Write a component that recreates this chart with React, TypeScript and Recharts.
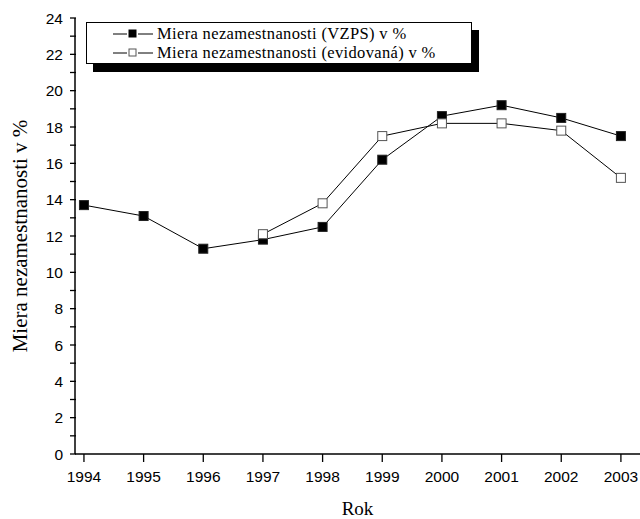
import { LineChart, Line, XAxis, YAxis } from 'recharts'

// Slovak unemployment rate, 1994-2003
const YEARS = [1994, 1995, 1996, 1997, 1998, 1999, 2000, 2001, 2002, 2003]
const VZPS = [13.7, 13.1, 11.3, 11.8, 12.5, 16.2, 18.6, 19.2, 18.5, 17.5]
const EVIDOVANA = [null, null, null, 12.1, 13.8, 17.5, 18.2, 18.2, 17.8, 15.2]

const Y_TICKS = [0, 1, 2, 3, 4, 5, 6, 7, 8, 9, 10, 11, 12, 13, 14, 15, 16, 17, 18, 19, 20, 21, 22, 23, 24]

const SERIES_VZPS = 'Miera nezamestnanosti (VZPS) v %'
const SERIES_EVID = 'Miera nezamestnanosti (evidovaná) v %'

const data = YEARS.map((year, i) => ({ year, vzps: VZPS[i], evid: EVIDOVANA[i] }))

const SERIF = '"Liberation Serif", "DejaVu Serif", serif'
const SANS = '"Liberation Sans", Arial, sans-serif'

function FilledSquare({ cx, cy }: any) {
  if (cx == null || cy == null) return null
  return <rect x={cx - 4.5} y={cy - 4.5} width={9} height={9} fill="#000" stroke="#222" strokeWidth={1} />
}

function OpenSquare({ cx, cy }: any) {
  if (cx == null || cy == null) return null
  return <rect x={cx - 4.5} y={cy - 4.5} width={9} height={9} fill="#fff" stroke="#555" strokeWidth={1} />
}

function YTick({ x, y, payload }: any) {
  const v = payload.value
  return (
    <g>
      <line x1={x + 3} x2={x + 9} y1={y} y2={y} stroke="#000" strokeWidth={1.3} />
      {v % 2 === 0 && (
        <text x={x - 4} y={y} textAnchor="end" dominantBaseline="central" fontFamily={SANS} fontSize={15.5} fill="#000">
          {v}
        </text>
      )}
    </g>
  )
}

// legend drawn as an overlay so it doesn't eat plot space
function LegendBox() {
  const row = (filled: boolean, label: string) => (
    <div style={{ display: 'flex', alignItems: 'center', height: 19 }}>
      <svg width={42} height={12} style={{ marginLeft: 26, flexShrink: 0 }}>
        <line x1={0} x2={14} y1={6} y2={6} stroke="#000" strokeWidth={1} />
        <rect x={16} y={2} width={7} height={7} fill={filled ? '#000' : '#fff'} stroke={filled ? '#000' : '#555'} strokeWidth={1} />
        <line x1={25} x2={40} y1={6} y2={6} stroke="#000" strokeWidth={1} />
      </svg>
      <span
        style={{
          marginLeft: 2,
          fontFamily: SERIF,
          fontSize: 16.5,
          letterSpacing: '0.35px',
          lineHeight: '16px',
          color: '#000',
          whiteSpace: 'nowrap',
        }}
      >
        {label}
      </span>
    </div>
  )
  return (
    <div
      style={{
        position: 'absolute',
        left: 86,
        top: 22,
        width: 386,
        height: 42,
        border: '1px solid #000',
        background: '#fff',
        boxShadow: '7px 8px 0 #000',
        boxSizing: 'border-box',
        paddingTop: 1,
      }}
    >
      {row(true, SERIES_VZPS)}
      {row(false, SERIES_EVID)}
    </div>
  )
}

export default function App() {
  return (
    <div style={{ position: 'absolute', left: 0, top: 0, width: 640, height: 519, background: '#fff' }}>
      <LineChart width={640} height={519} data={data} margin={{ top: 18, right: 0, bottom: 35, left: 0 }}>
        <XAxis
          dataKey="year"
          type="number"
          domain={[1993.85, 2003.32]}
          ticks={YEARS}
          allowDataOverflow
          height={30}
          axisLine={{ stroke: '#000', strokeWidth: 1.5 }}
          tickLine={{ stroke: '#000', strokeWidth: 1.3 }}
          tickSize={8}
          tickMargin={9}
          tick={{ fill: '#000', fontFamily: SANS, fontSize: 15.5 }}
          label={{ value: 'Rok', position: 'bottom', offset: 18, fill: '#000', fontFamily: SERIF, fontSize: 19 }}
        />
        <YAxis
          type="number"
          domain={[0, 24]}
          ticks={Y_TICKS}
          interval={0}
          width={75}
          axisLine={{ stroke: '#000', strokeWidth: 1.5 }}
          tickLine={false}
          tick={<YTick />}
          label={{
            value: 'Miera nezamestnanosti v %',
            angle: -90,
            position: 'insideLeft',
            offset: 20,
            style: { textAnchor: 'middle' },
            fill: '#000',
            fontFamily: SERIF,
            fontSize: 21,
          }}
        />
        <Line
          type="linear"
          dataKey="vzps"
          name={SERIES_VZPS}
          stroke="#000"
          strokeWidth={1}
          dot={<FilledSquare />}
          activeDot={false}
          isAnimationActive={false}
        />
        <Line
          type="linear"
          dataKey="evid"
          name={SERIES_EVID}
          stroke="#000"
          strokeWidth={1}
          dot={<OpenSquare />}
          activeDot={false}
          isAnimationActive={false}
        />
      </LineChart>
      <LegendBox />
    </div>
  )
}
